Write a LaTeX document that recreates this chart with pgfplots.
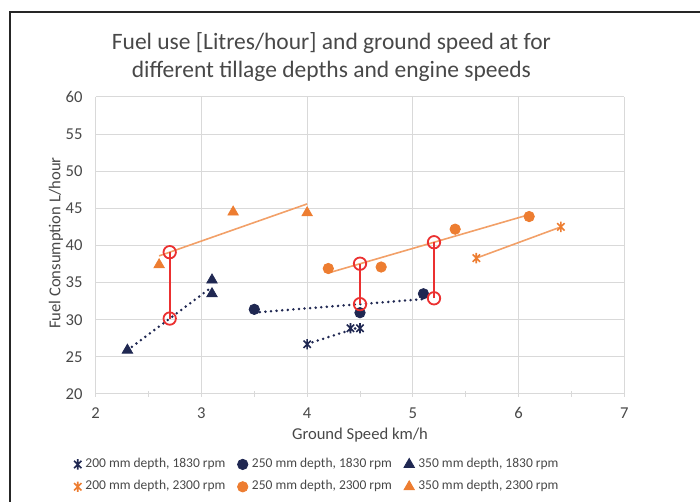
\documentclass[border=0pt]{standalone}
\usepackage{fontspec}
\setmainfont{Carlito}
\usepackage{pgfplots}
\pgfplotsset{compat=1.18}
\definecolor{navy}{RGB}{32,40,82}
\definecolor{orng}{RGB}{237,125,49}
\definecolor{orngline}{RGB}{242,160,104}
\definecolor{redc}{RGB}{235,48,48}
\definecolor{gridc}{RGB}{217,217,217}
\definecolor{txt}{RGB}{72,72,72}

% Excel-like star marker: an x with a vertical bar
\pgfdeclareplotmark{xstar}{%
  \pgfpathmoveto{\pgfqpoint{-.7071\pgfplotmarksize}{-.7071\pgfplotmarksize}}%
  \pgfpathlineto{\pgfqpoint{.7071\pgfplotmarksize}{.7071\pgfplotmarksize}}%
  \pgfpathmoveto{\pgfqpoint{-.7071\pgfplotmarksize}{.7071\pgfplotmarksize}}%
  \pgfpathlineto{\pgfqpoint{.7071\pgfplotmarksize}{-.7071\pgfplotmarksize}}%
  \pgfpathmoveto{\pgfqpoint{0pt}{\pgfplotmarksize}}%
  \pgfpathlineto{\pgfqpoint{0pt}{-\pgfplotmarksize}}%
  \pgfusepathqstroke}

\begin{document}
\begin{tikzpicture}
\useasboundingbox (0,0) rectangle (350pt,251pt);
\draw[line width=0.9pt, black!85] (5pt,-2pt) |- (352pt,245pt);

\node[align=center, text=txt, font=\fontsize{11.75}{14}\selectfont]
    at (165.7pt,222.5pt) {Fuel use [Litres/hour] and ground speed at for\\different tillage depths and engine speeds};

\begin{axis}[
    at={(47.85pt,54pt)}, anchor=south west,
    scale only axis,
    width=264.3pt, height=148.5pt,
    xmin=2, xmax=7, ymin=20, ymax=60,
    xtick={2,3,4,5,6,7},
    ytick={20,25,30,35,40,45,50,55,60},
    minor x tick num=1,
    grid=major,
    grid style={gridc, line width=0.5pt},
    axis line style={gridc, line width=0.5pt},
    axis x line*=bottom, axis y line*=left,
    separate axis lines,
    x axis line style={-}, y axis line style={-},
    ytick style={draw=none},
    xtick style={gridc, line width=0.5pt},
    xtick align=center,
    major tick length=3pt, minor tick length=3pt,
    tick label style={font=\fontsize{8.3}{9}\selectfont, text=txt},
    /pgf/number format/assume math mode=true,
    yticklabel style={xshift=-3.1pt},
    xticklabel style={yshift=-1.8pt},
    xlabel={Ground Speed km/h},
    ylabel={Fuel Consumption L/hour},
    label style={font=\fontsize{8.3}{9}\selectfont, text=txt},
    xlabel style={at={(axis description cs:0.5,-0.138)}, anchor=center},
    ylabel style={at={(axis description cs:-0.075,0.508)}, anchor=center},
    clip=false,
    legend columns=3,
    legend cell align=left,
    legend style={
        at={(axis description cs:-0.053,-0.188)}, anchor=north west,
        draw=none, fill=none,
        font=\fontsize{6.75}{8}\selectfont, text=txt,
        row sep=1pt,
        /tikz/every even column/.append style={column sep=4pt},
        /tikz/column 4/.append style={column sep=1pt},
    },
    legend image code/.code={%
        \draw[mark repeat=2,mark phase=2,#1] plot coordinates {(0pt,0pt) (2pt,0pt) (4pt,0pt)};},
]

% trend lines (Excel linear trendlines, end points)
\addplot[navy, line width=1.4pt, line cap=round, dash pattern=on 0pt off 2.8pt, forget plot]
    coordinates {(4.0,26.74) (4.5,29.03)};
\addplot[navy, line width=1.4pt, line cap=round, dash pattern=on 0pt off 2.8pt, forget plot]
    coordinates {(3.5,30.97) (5.1,32.78)};
\addplot[navy, line width=1.4pt, line cap=round, dash pattern=on 0pt off 2.8pt, forget plot]
    coordinates {(2.3,25.9) (3.1,34.42)};
\addplot[orngline, line width=0.8pt, forget plot]
    coordinates {(5.6,38.3) (6.4,42.5)};
\addplot[orngline, line width=0.8pt, forget plot]
    coordinates {(4.2,36.3) (6.1,44.16)};
\addplot[orngline, line width=0.8pt, forget plot]
    coordinates {(2.6,38.6) (4.0,45.6)};

% 1830 rpm
\addplot[only marks, mark=xstar, mark size=2.6pt, navy, line width=0.8pt]
    coordinates {(4.0,26.7) (4.41,28.85) (4.5,28.85)};
\addlegendentry{200 mm depth, 1830 rpm}
\addplot[only marks, mark=*, mark size=2.6pt, navy]
    coordinates {(3.5,31.4) (4.5,30.95) (5.1,33.5)};
\addlegendentry{250 mm depth, 1830 rpm}
\addplot[only marks, mark=triangle*, mark size=3pt, navy]
    coordinates {(2.3,25.9) (3.1,35.35) (3.1,33.5)};
\addlegendentry{350 mm depth, 1830 rpm}

% 2300 rpm
\addplot[only marks, mark=xstar, mark size=2.6pt, orng, line width=0.8pt]
    coordinates {(5.6,38.3) (6.4,42.5)};
\addlegendentry{200 mm depth, 2300 rpm}
\addplot[only marks, mark=*, mark size=2.6pt, orng]
    coordinates {(4.2,36.9) (4.7,37.1) (5.4,42.2) (6.1,43.9)};
\addlegendentry{250 mm depth, 2300 rpm}
\addplot[only marks, mark=triangle*, mark size=3pt, orng]
    coordinates {(2.6,37.4) (3.3,44.5) (4.0,44.4)};
\addlegendentry{350 mm depth, 2300 rpm}

% rpm difference at equal speed
\addplot[redc, line width=1pt, mark=o, mark size=3.1pt,
    mark options={fill=white, line width=0.9pt}, forget plot]
    coordinates {(2.7,30.16) (2.7,39.1)};
\addplot[redc, line width=1pt, mark=o, mark size=3.1pt,
    mark options={fill=white, line width=0.9pt}, forget plot]
    coordinates {(4.5,32.1) (4.5,37.55)};
\addplot[redc, line width=1pt, mark=o, mark size=3.1pt,
    mark options={fill=white, line width=0.9pt}, forget plot]
    coordinates {(5.2,32.89) (5.2,40.44)};

\end{axis}
\end{tikzpicture}
\end{document}
